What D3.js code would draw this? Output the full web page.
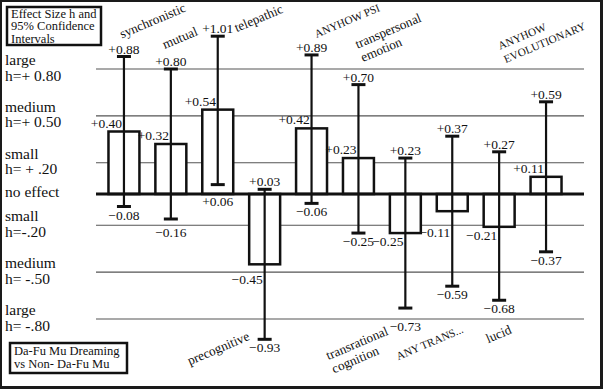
<!DOCTYPE html>
<html>
<head>
<meta charset="utf-8">
<script src="https://cdn.jsdelivr.net/npm/d3@7"></script>
<style>
  body { margin: 0; background: #fff; }
  text { font-family: "Liberation Serif", serif; fill: #111; }
</style>
</head>
<body>
<svg id="chart"></svg>
<script>
// data
const categories = [
    ["synchronistic"], ["mutual"], ["telepathic"], ["precognitive"], ["ANYHOW PSI"],
    ["transpersonal", "emotion"], ["transrational", "cognition"], ["ANY TRANS..."],
    ["lucid"], ["ANYHOW", "EVOLUTIONARY"]
];
const effect = [0.40, 0.32, 0.54, -0.45, 0.42, 0.23, -0.25, -0.11, -0.21, 0.11];
const ciLow  = [-0.08, -0.16, 0.06, -0.93, -0.06, -0.25, -0.73, -0.59, -0.68, -0.37];
const ciHigh = [0.88, 0.80, 1.01, 0.03, 0.89, 0.70, 0.23, 0.37, 0.27, 0.59];
const levels = [0.80, 0.50, 0.20, 0, -0.20, -0.50, -0.80];
const levelLabels = [
    ["large", "h=+ 0.80"], ["medium", "h=+ 0.50"], ["small", "h= + .20"], ["no effect"],
    ["small", "h=-.20"], ["medium", "h= -.50"], ["large", "h= -.80"]
];
const titleLines = ["Effect Size h and", "95% Confidence", "Intervals"];
const noteLines = ["Da-Fu Mu Dreaming", "vs  Non- Da-Fu Mu"];

// where each category name sits, relative to the end of its interval
// (top end for some, bottom end for the others)
const labelNudge = [
    {end: "hi", dx: -2, dy: -18}, {end: "hi", dx: -6, dy: -20}, {end: "hi", dx: 19, dy: -4},
    {end: "lo", dx: -75, dy: 26}, {end: "hi", dx: 5, dy: -17}, {end: "hi", dx: -1, dy: -36},
    {end: "lo", dx: -77, dy: 52}, {end: "lo", dx: -54, dy: 74}, {end: "lo", dx: -11, dy: 43},
    {end: "hi", dx: -46, dy: -52}
];

const width = 603, height = 389;
const svg = d3.select("#chart").attr("width", width).attr("height", height);

const rows = categories.map((c, i) => ({
    i, lines: c, eff: effect[i], lo: ciLow[i], hi: ciHigh[i], nudge: labelNudge[i]
}));

const x = d3.scaleBand().domain(d3.range(categories.length))
    .range([100.5, 569.5]).paddingInner(0.34).paddingOuter(0.17);
const y = d3.scaleLinear().domain([-0.8, 0.8]).range([319, 69]);
const cx = i => x(i) + x.bandwidth() / 2;
const fmt = v => (v < 0 ? "\u2212" : "+") + Math.abs(v).toFixed(2);

// frame
svg.append("rect").attr("x", 1).attr("y", 1).attr("width", width - 3).attr("height", height - 3)
    .attr("fill", "#fff").attr("stroke", "#1a1a1a").attr("stroke-width", 2);
svg.append("path").attr("d", `M${width - 1.5},0V${height - 1.5}H0`)
    .attr("fill", "none").attr("stroke", "#1a1a1a").attr("stroke-width", 3);

// level lines
svg.append("g").selectAll("line").data(levels.filter(d => d !== 0)).join("line")
    .attr("x1", 96).attr("x2", 584)
    .attr("y1", d => y(d)).attr("y2", d => y(d))
    .attr("stroke", "#555").attr("stroke-width", 1.2);

// level names on the left
const lev = svg.append("g").selectAll("text").data(levels).join("text")
    .attr("x", 5).attr("y", d => y(d) - 4)
    .attr("font-size", 15.5);
lev.selectAll("tspan").data((d, i) => levelLabels[i].map((t, k) => ({t, k, single: levelLabels[i].length === 1})))
    .join("tspan")
    .attr("x", 5)
    .attr("dy", d => d.single ? 7 : (d.k === 0 ? 0 : 15.5))
    .text(d => d.t);

// bars
svg.append("g").selectAll("rect").data(rows).join("rect")
    .attr("x", d => x(d.i)).attr("width", x.bandwidth())
    .attr("y", d => y(Math.max(0, d.eff)))
    .attr("height", d => Math.abs(y(d.eff) - y(0)))
    .attr("fill", "#fff").attr("stroke", "#111").attr("stroke-width", 2.5);

// no effect line
svg.append("line").attr("x1", 96).attr("x2", 584).attr("y1", y(0)).attr("y2", y(0))
    .attr("stroke", "#111").attr("stroke-width", 3);

// error bars
const err = svg.append("g").attr("stroke", "#111");
err.selectAll("line.v").data(rows).join("line").attr("class", "v")
    .attr("x1", d => cx(d.i)).attr("x2", d => cx(d.i))
    .attr("y1", d => y(d.lo)).attr("y2", d => y(d.hi))
    .attr("stroke-width", 2.2);
err.selectAll("line.cap").data(rows.flatMap(d => [{i: d.i, v: d.lo}, {i: d.i, v: d.hi}]))
    .join("line").attr("class", "cap")
    .attr("x1", d => cx(d.i) - 7).attr("x2", d => cx(d.i) + 7)
    .attr("y1", d => y(d.v)).attr("y2", d => y(d.v))
    .attr("stroke-width", 3);

// push a label under a level line when it would sit on it
const gridYs = levels.map(y);
function below(yy) {
    let b = yy + 13;
    gridYs.forEach(g => { if (g > b - 10 && g < b + 2) b = g + 12; });
    return b;
}

const vals = svg.append("g").attr("font-size", 13.5).attr("text-anchor", "middle");
vals.selectAll("text.hi").data(rows).join("text").attr("class", "hi")
    .attr("x", d => cx(d.i)).attr("y", d => y(d.hi) - 3).text(d => fmt(d.hi));
vals.selectAll("text.lo").data(rows).join("text").attr("class", "lo")
    .attr("x", d => cx(d.i)).attr("y", d => below(y(d.lo))).text(d => fmt(d.lo));
vals.selectAll("text.eff").data(rows).join("text").attr("class", "eff")
    .attr("x", d => x(d.i) - 2)
    .attr("y", d => d.eff >= 0 ? y(d.eff) - 4 : below(y(d.eff)))
    .text(d => fmt(d.eff));

// category names, slanted; capitals are set a bit smaller (narrow caps in the original font)
const isCaps = t => t === t.toUpperCase();
const cat = svg.append("g").selectAll("text").data(rows).join("text")
    .attr("transform", d => {
        const px = cx(d.i) + d.nudge.dx;
        const py = y(d.nudge.end === "hi" ? d.hi : d.lo) + d.nudge.dy;
        return `translate(${px},${py}) rotate(-23)`;
    });
cat.selectAll("tspan").data(d => d.lines.map((t, k) => ({t, k}))).join("tspan")
    .attr("x", 0).attr("dy", d => d.k === 0 ? 0 : 14.5)
    .attr("font-size", d => isCaps(d.t) ? 11.2 : 13.2)
    .text(d => d.t);

// title box
const title = svg.append("g");
title.append("rect").attr("x", 7).attr("y", 7).attr("width", 94).attr("height", 38)
    .attr("fill", "#fff").attr("stroke", "#111").attr("stroke-width", 2.5);
title.append("text").attr("font-size", 12.5).selectAll("tspan").data(titleLines).join("tspan")
    .attr("x", 11).attr("y", (d, i) => 17.5 + i * 12.5).text(d => d);

// note box
const note = svg.append("g");
note.append("rect").attr("x", 10).attr("y", 343).attr("width", 117).attr("height", 30)
    .attr("fill", "#fff").attr("stroke", "#111").attr("stroke-width", 2.5);
note.append("text").attr("font-size", 12.5).selectAll("tspan").data(noteLines).join("tspan")
    .attr("x", 14).attr("y", (d, i) => 355 + i * 12.5).text(d => d);
</script>
</body>
</html>
